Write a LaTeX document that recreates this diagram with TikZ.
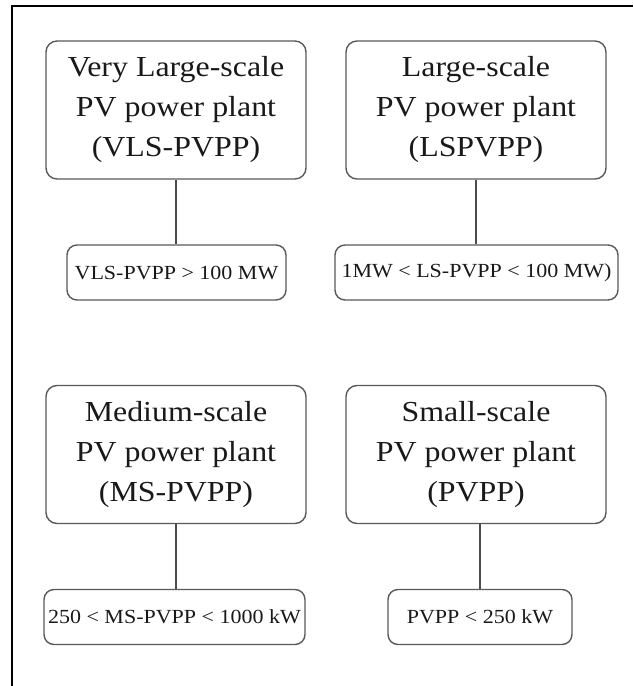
\documentclass[tikz,border=0pt]{standalone}
\usepackage{fontspec}
\setmainfont[FakeStretch=1.1]{Liberation Serif}
\begin{document}
\begin{tikzpicture}[x=1pt,y=-1pt,
 bigbox/.style={draw=black!65, line width=1.4pt, rounded corners=11pt, minimum width=260pt, minimum height=138pt, align=center, font=\fontsize{29}{40}\selectfont, inner sep=0pt, text=black!90},
 smallbox/.style={draw=black!65, line width=1.4pt, rounded corners=10pt, minimum height=55pt, font=\fontsize{20}{24}\selectfont, inner sep=0pt, text=black!90},
 link/.style={draw=black!70, line width=1.2pt}]
\useasboundingbox (0,0) rectangle (633,686);
\draw[line width=2pt] (12,686) -- (12,6) -- (633,6);

\node[bigbox] (vls) at (176,110) {Very Large-scale\\PV power plant\\(VLS-PVPP)};
\node[smallbox, minimum width=219pt] (vlsr) at (176.5,272.5) {VLS-PVPP > 100 MW};

\node[bigbox] (ls) at (476,110) {Large-scale\\PV power plant\\(LSPVPP)};
\node[smallbox, minimum width=283pt] (lsr) at (476.5,272.5) {1MW < LS-PVPP < 100 MW)};

\node[bigbox] (ms) at (176,454.5) {Medium-scale\\PV power plant\\(MS-PVPP)};
\node[smallbox, minimum width=261pt] (msr) at (174.5,617) {250 < MS-PVPP < 1000 kW};

\node[bigbox] (ss) at (476,454.5) {Small-scale\\PV power plant\\(PVPP)};
\node[smallbox, minimum width=184pt] (ssr) at (480,617) {PVPP < 250 kW};

\draw[link] (vls.south) -- (vls.south |- vlsr.north);
\draw[link] (ls.south) -- (ls.south |- lsr.north);
\draw[link] (ms.south) -- (ms.south |- msr.north);
\draw[link] (ss.south -| ssr.north) -- (ssr.north);
\end{tikzpicture}
\end{document}
